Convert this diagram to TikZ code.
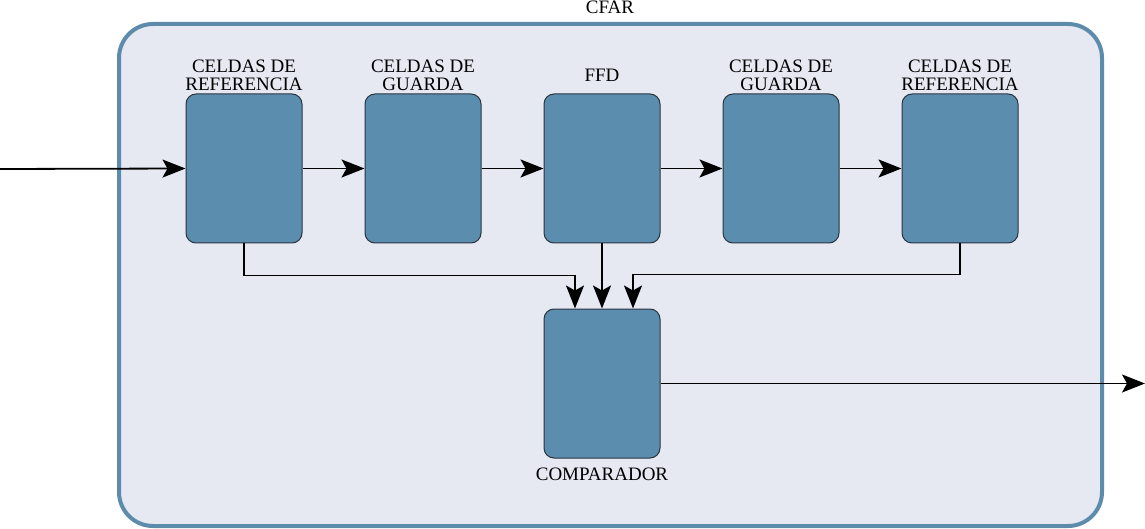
\documentclass[tikz,border=0pt]{standalone}
\usepackage{fontspec}
\setmainfont{Liberation Serif}
\usetikzlibrary{arrows.meta,positioning}
\definecolor{outerfill}{HTML}{E6E8F2}
\definecolor{outerdraw}{HTML}{5C8BAB}
\definecolor{blockfill}{HTML}{5A8DAE}
\definecolor{blockdraw}{HTML}{2A3540}
\tikzset{
  blockbox/.style={draw=blockdraw,fill=blockfill,line width=1pt,rounded corners=10pt,minimum width=116pt,minimum height=149pt,inner sep=0pt},
  lbl/.style={font=\fontsize{19}{18}\selectfont,align=center,inner sep=0pt},
  conn/.style={line width=1.8pt,-{Stealth[length=23pt,width=18pt,inset=5pt]}},
}
\begin{document}
\begin{tikzpicture}[x=1pt,y=-1pt]
\useasboundingbox (0,0) rectangle (1145,529);
\draw[draw=outerdraw,fill=outerfill,line width=4pt,rounded corners=34pt] (119,24) rectangle (1102,526);
\node[lbl,anchor=base] (cfar) at (610,14) {CFAR};
\node[blockbox] (b1) at (244,168.5) {};
\node[blockbox] (b2) at (423,168.5) {};
\node[blockbox] (b3) at (602,168.5) {};
\node[blockbox] (b4) at (781,168.5) {};
\node[blockbox] (b5) at (960,168.5) {};
\node[blockbox] (cmp) at (602,383.5) {};
\node[lbl,anchor=base] (l1) at (244,91) {CELDAS DE\\REFERENCIA};
\node[lbl,anchor=base] (l2) at (423,91) {CELDAS DE\\GUARDA};
\node[lbl,anchor=base] (l3) at (602,82) {FFD};
\node[lbl,anchor=base] (l4) at (781,91) {CELDAS DE\\GUARDA};
\node[lbl,anchor=base] (l5) at (960,91) {CELDAS DE\\REFERENCIA};
\node[lbl,anchor=base] (lc) at (602,480) {COMPARADOR};
\coordinate (in) at (0,169);
\coordinate (out) at (1145,383.5);
\draw[conn] (in) -- (b1.west);
\draw[conn] (b1.east) -- (b2.west);
\draw[conn] (b2.east) -- (b3.west);
\draw[conn] (b3.east) -- (b4.west);
\draw[conn] (b4.east) -- (b5.west);
\draw[conn] (b1.south) -- ++(0,32) -| ([xshift=-27pt]cmp.north);
\draw[conn] (b3.south) -- (cmp.north);
\draw[conn] (b5.south) -- ++(0,31) -| ([xshift=31pt]cmp.north);
\draw[conn] (cmp.east) -- (out);
\end{tikzpicture}
\end{document}
